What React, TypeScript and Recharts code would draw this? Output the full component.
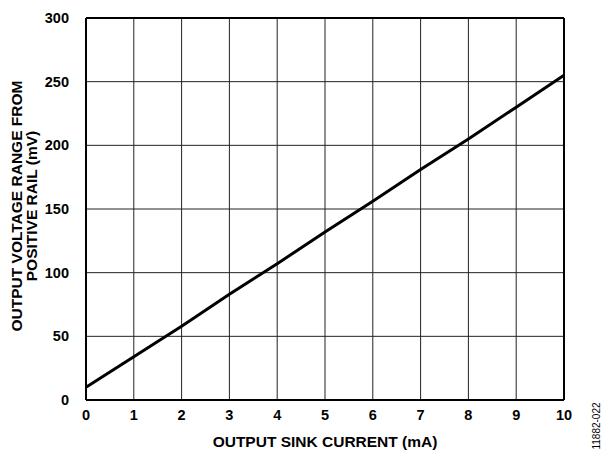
import { LineChart, Line, XAxis, YAxis, CartesianGrid, ReferenceLine, Label } from 'recharts'

const currents = [0, 1, 2, 3, 4, 5, 6, 7, 8, 9, 10]
const voltages = [10, 34, 58, 83, 107, 132, 156, 181, 205, 230, 255]
const xTicks = [0, 1, 2, 3, 4, 5, 6, 7, 8, 9, 10]
const yTicks = [0, 50, 100, 150, 200, 250, 300]

const data = currents.map((c, i) => ({ current: c, voltage: voltages[i] }))

const font = 'Arial, "Liberation Sans", sans-serif'
const tickStyle = { fill: '#000', fontSize: 14.5, fontWeight: 700, fontFamily: font }

function YTitle() {
  return (
    <text
      transform="translate(0, 206) rotate(-90)"
      textAnchor="middle"
      fontFamily={font}
      fontSize={15.5}
      fontWeight={700}
      fill="#000"
    >
      <tspan x={0} dy={22}>OUTPUT VOLTAGE RANGE FROM</tspan>
      <tspan x={0} dy={15}>POSITIVE RAIL (mV)</tspan>
    </text>
  )
}

export default function App() {
  return (
    <div style={{ position: 'absolute', left: 0, top: 0, width: 602, height: 450, background: '#fff' }}>
      <LineChart width={602} height={450} data={data} margin={{ top: 18, right: 38, bottom: 0, left: 0 }}>
        <CartesianGrid stroke="#222" strokeWidth={1} horizontalValues={yTicks} verticalValues={xTicks} />
        <XAxis
          dataKey="current"
          type="number"
          domain={[0, 10]}
          ticks={xTicks}
          height={50}
          tickLine={false}
          axisLine={{ stroke: '#000', strokeWidth: 2 }}
          tick={tickStyle}
          tickMargin={4}
        >
          <Label
            value="OUTPUT SINK CURRENT (mA)"
            position="insideBottom"
            offset={3}
            style={{ fill: '#000', fontSize: 15.5, fontWeight: 700, fontFamily: font }}
          />
        </XAxis>
        <YAxis
          type="number"
          domain={[0, 300]}
          ticks={yTicks}
          width={86}
          tickLine={false}
          axisLine={{ stroke: '#000', strokeWidth: 2 }}
          tick={tickStyle}
          tickMargin={11}
        >
          <Label content={YTitle} />
        </YAxis>
        <ReferenceLine y={300} stroke="#000" strokeWidth={2} />
        <ReferenceLine x={10} stroke="#000" strokeWidth={2} />
        <Line
          dataKey="voltage"
          type="linear"
          stroke="#000"
          strokeWidth={3}
          dot={false}
          isAnimationActive={false}
        />
        <text
          transform="translate(600, 426) rotate(-90)"
          textAnchor="middle"
          fontFamily={font}
          fontSize={10}
          fill="#000"
        >
          11882-022
        </text>
      </LineChart>
    </div>
  )
}
